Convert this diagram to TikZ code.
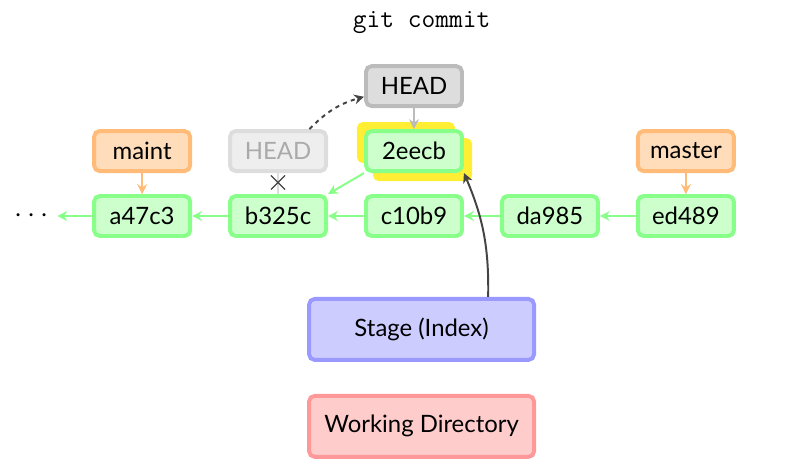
\documentclass[tikz,border=0pt]{standalone}
\usepackage{fontspec}
\setmainfont{Lato}
\usetikzlibrary{arrows.meta, positioning, calc, backgrounds, shapes.misc}
\definecolor{commitfill}{RGB}{204,255,204}
\definecolor{commitline}{RGB}{136,255,136}
\definecolor{branchfill}{RGB}{255,221,187}
\definecolor{branchline}{RGB}{255,187,119}
\definecolor{headfill}{RGB}{221,221,221}
\definecolor{headline}{RGB}{187,187,187}
\definecolor{oldfill}{RGB}{238,238,238}
\definecolor{oldline}{RGB}{221,221,221}
\definecolor{oldtext}{RGB}{170,170,170}
\definecolor{stagefill}{RGB}{204,204,255}
\definecolor{stageline}{RGB}{153,153,255}
\definecolor{workfill}{RGB}{255,204,204}
\definecolor{workline}{RGB}{255,153,153}
\definecolor{marker}{RGB}{255,238,51}
\definecolor{darkarrow}{RGB}{68,68,68}
\tikzset{
  box/.style={
    rectangle, rounded corners=4pt, minimum width=2.4cm,
    minimum height=1cm, text centered, inner sep=0pt,
    draw, line width=2.8pt, font=\fontsize{17}{20}\selectfont
  },
  cmt/.style={box, fill=commitfill, draw=commitline},
  brn/.style={box, fill=branchfill, draw=branchline},
  hd/.style={box, fill=headfill,   draw=headline},
  oldhd/.style={box, fill=oldfill, draw=oldline, text=oldtext},
  area/.style={box, minimum width=5.625cm, minimum height=1.525cm},
  stg/.style={area, fill=stagefill, draw=stageline},
  wrk/.style={area, fill=workfill,  draw=workline},
  arr/.style={-{Stealth[length=7pt, width=7pt]}, line width=1.4pt},
  garr/.style={arr, draw=commitline},
  oarr/.style={arr, draw=branchline},
  harr/.style={arr, draw=headline},
  darr/.style={arr, draw=darkarrow},
  hl/.style={fill=marker, rounded corners=4pt},
  gone/.style={cross out, draw=darkarrow, line width=0.9pt,
               minimum size=0.32cm, inner sep=0pt}
}
\begin{document}
\begin{tikzpicture}[node distance=0.525cm and 0.9cm]
  \useasboundingbox (-10.35,-6.225) rectangle (9.825,5.4);

  %% commits
  \node[cmt] (c10b9) at (0,0) {c10b9};
  \node[cmt, left=of c10b9]  (b325c) {b325c};
  \node[cmt, left=of b325c]  (a47c3) {a47c3};
  \node[cmt, right=of c10b9] (da985) {da985};
  \node[cmt, right=of da985] (ed489) {ed489};
  \node[inner xsep=0.2cm, inner ysep=0pt, font=\fontsize{21}{21}\selectfont]
       (dots) at (-9.55,0) {$\cdots$};

  \node[cmt, above=of c10b9] (new) {2eecb};
  \begin{scope}[on background layer]
    \fill[hl] ($(new)+(-1.425,0.725)$) rectangle ($(new)+(1.025,-0.3)$);
    \fill[hl] ($(new)+(-1.025,0.325)$) rectangle ($(new)+(1.45,-0.75)$);
  \end{scope}

  %% refs
  \node[hd,    above=of new]   (head)    {HEAD};
  \node[oldhd, above=of b325c] (oldhead) {HEAD};
  \node[brn,   above=of a47c3] (maint)   {maint};
  \node[brn,   above=of ed489] (master)  {master};

  %% areas
  \node[stg, below=1.475cm of c10b9, xshift=0.19cm] (stage) {Stage (Index)};
  \node[wrk, below=0.8cm of stage] (work) {Working Directory};

  \node[font=\ttfamily\fontsize{19}{20}\selectfont]
       (title) at ($(c10b9)+(0.19,4.83)$) {git commit};

  %% connectors
  \draw[garr] (a47c3) -- (dots);
  \draw[garr] (b325c) -- (a47c3);
  \draw[garr] (c10b9) -- (b325c);
  \draw[garr] (da985) -- (c10b9);
  \draw[garr] (ed489) -- (da985);
  \draw[garr] (new.south west) -- (b325c.north east);
  \draw[oarr] (maint)  -- (a47c3);
  \draw[oarr] (master) -- (ed489);
  \draw[harr] (head) -- (new);
  \draw[line width=1.4pt, draw=oldline] (oldhead) -- (b325c)
       node[gone, pos=0.45] (cut) {};
  \draw[darr, dashed] (oldhead.35) to[bend left=15] (head.192);
  \draw[darr] (stage.26.5) to[bend right=12] (new.south east);

\end{tikzpicture}
\end{document}
